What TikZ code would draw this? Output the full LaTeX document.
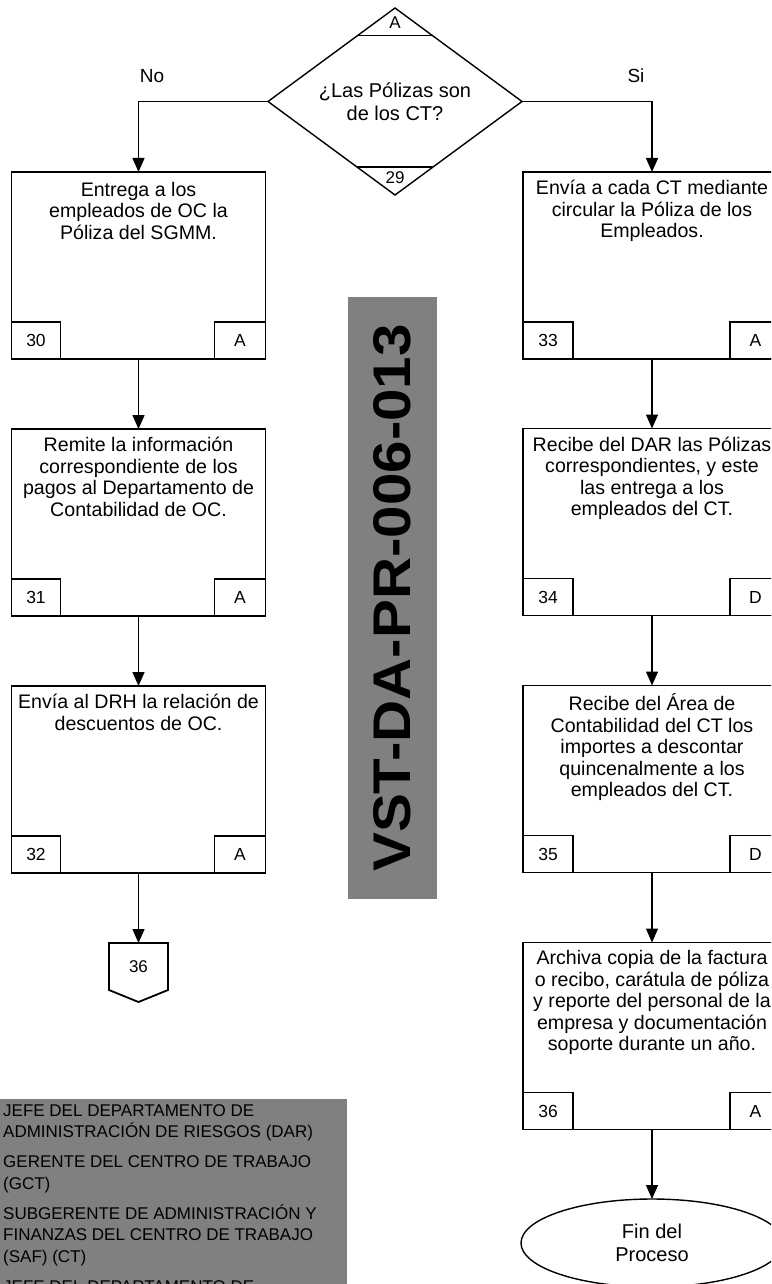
\documentclass[tikz,border=0pt]{standalone}
\usepackage{fontspec}
\setmainfont{Liberation Sans}
\usetikzlibrary{shapes.geometric,arrows.meta,calc}
\definecolor{bandgray}{HTML}{808080}
\begin{document}
\begin{tikzpicture}[x=1pt,y=-1pt,
  box/.style={draw,line width=1.4pt,minimum height=187pt,inner sep=0pt,outer sep=0pt},
  lbox/.style={box,minimum width=254pt},
  rbox/.style={box,minimum width=258pt},
  txt/.style={anchor=north,align=center,font=\fontsize{19.6}{21.5}\selectfont,inner sep=0pt},
  numbox/.style={draw,line width=1.4pt,minimum width=49pt,minimum height=37pt,inner sep=0pt,outer sep=0pt,font=\fontsize{17.5}{17.5}\selectfont},
  letbox/.style={numbox,minimum width=51pt},
  flow/.style={line width=1.4pt,-{Triangle[width=12pt,length=14pt]}},
  lbl/.style={font=\fontsize{19}{19}\selectfont,inner sep=0pt},
]
\useasboundingbox (0,0) rectangle (771,1284);
\clip (0,0) rectangle (771,1284);

% decision
\node[diamond,draw,line width=1.4pt,minimum width=254pt,minimum height=187pt,shape aspect=1.4,inner sep=0pt,outer sep=0pt,align=center,font=\fontsize{20}{22.5}\selectfont] (d) at (395,101.5) {¿Las Pólizas son\\de los CT?};
\draw[line width=1.2pt] ($(d.north)!0.29!(d.west)$) -- ($(d.north)!0.29!(d.east)$);
\draw[line width=1.2pt] ($(d.south)!0.30!(d.west)$) -- ($(d.south)!0.30!(d.east)$);
\node[font=\fontsize{17}{17}\selectfont,inner sep=0pt] (dA) at (395,23) {A};
\node[font=\fontsize{17}{17}\selectfont,inner sep=0pt] (d29) at (395,178) {29};
\node[lbl] (no) at (152,76) {No};
\node[lbl] (si) at (636,76) {Si};

% left column
\node[lbox] (b30) at (138.5,265.5) {};
\node[txt] (t30) at ([yshift=-10pt]b30.north) {Entrega a los\\empleados de OC la\\Póliza del SGMM.};
\node[numbox,anchor=south west] (n30) at (b30.south west) {30};
\node[letbox,anchor=south east] (a30) at (b30.south east) {A};

\node[lbox] (b31) at (138.5,522.5) {};
\node[txt] (t31) at ([yshift=-8pt]b31.north) {Remite la información\\correspondiente de los\\pagos al Departamento de\\Contabilidad de OC.};
\node[numbox,anchor=south west] (n31) at (b31.south west) {31};
\node[letbox,anchor=south east] (a31) at (b31.south east) {A};

\node[lbox] (b32) at (138.5,779.5) {};
\node[txt] (t32) at ([yshift=-8pt]b32.north) {Envía al DRH la relación de\\descuentos de OC.};
\node[numbox,anchor=south west] (n32) at (b32.south west) {32};
\node[letbox,anchor=south east] (a32) at (b32.south east) {A};

\node[minimum width=59pt,minimum height=47pt,inner sep=0pt,outer sep=0pt,font=\fontsize{17}{17}\selectfont] (c36) at (138.5,966.5) {36};
\draw[line width=1.8pt,line join=miter] (c36.north west) -- (c36.north east) -- (c36.south east) -- ($(c36.south)+(0,12)$) -- (c36.south west) -- cycle;

% right column
\node[rbox] (b33) at (652,265.5) {};
\node[txt] (t33) at ([yshift=-8pt]b33.north) {Envía a cada CT mediante\\circular la Póliza de los\\Empleados.};
\node[numbox,minimum width=50pt,anchor=south west] (n33) at (b33.south west) {33};
\node[letbox,anchor=south east] (a33) at (b33.south east) {A};

\node[rbox] (b34) at (652,522) {};
\node[txt] (t34) at ([yshift=-8pt]b34.north) {Recibe del DAR las Pólizas\\correspondientes, y este\\las entrega a los\\empleados del CT.};
\node[numbox,minimum width=50pt,anchor=south west] (n34) at (b34.south west) {34};
\node[letbox,anchor=south east] (a34) at (b34.south east) {D};

\node[rbox] (b35) at (652,779) {};
\node[txt] (t35) at ([yshift=-8pt]b35.north) {Recibe del Área de\\Contabilidad del CT los\\importes a descontar\\quincenalmente a los\\empleados del CT.};
\node[numbox,minimum width=50pt,anchor=south west] (n35) at (b35.south west) {35};
\node[letbox,anchor=south east] (a35) at (b35.south east) {D};

\node[rbox] (b36) at (652,1036) {};
\node[txt] (t36) at ([yshift=-8pt]b36.north) {Archiva copia de la factura\\o recibo, carátula de póliza\\y reporte del personal de la\\empresa y documentación\\soporte durante un año.};
\node[numbox,minimum width=50pt,anchor=south west] (n36) at (b36.south west) {36};
\node[letbox,anchor=south east] (a36) at (b36.south east) {A};

\node[ellipse,draw,line width=1.4pt,minimum width=262pt,minimum height=88pt,inner sep=0pt,outer sep=0pt,align=center,font=\fontsize{20}{22.5}\selectfont] (fin) at (652,1243) {Fin del\\Proceso};

% connectors
\draw[flow] (d.west) -| (b30.north);
\draw[flow] (d.east) -| (b33.north);
\draw[flow] (b30.south) -- (b31.north);
\draw[flow] (b31.south) -- (b32.north);
\draw[flow] (b32.south) -- (c36.north);
\draw[flow] (b33.south) -- (b34.north);
\draw[flow] (b34.south) -- (b35.north);
\draw[flow] (b35.south) -- (b36.north);
\draw[flow] (b36.south) -- (fin.north);

% code band
\node[fill=bandgray,minimum width=89pt,minimum height=602pt,inner sep=0pt] (band) at (392.5,598) {};
\node[rotate=90,font=\fontsize{53}{53}\selectfont\bfseries,inner sep=0pt] (code) at (band.center) {\scalebox{1.1}[1]{VST-DA-PR-006-013}};

% legend
\node[fill=bandgray,anchor=north west,minimum width=347pt,minimum height=200pt,inner sep=0pt] (legbg) at (0,1099) {};
\node[anchor=north west,align=left,inner sep=0pt,font=\fontsize{17}{21.5}\selectfont] (leg) at (3,1104) {JEFE DEL DEPARTAMENTO DE\\ADMINISTRACIÓN DE RIESGOS (DAR)\\[8.5pt]GERENTE DEL CENTRO DE TRABAJO\\(GCT)\\[8.5pt]SUBGERENTE DE ADMINISTRACIÓN Y\\FINANZAS DEL CENTRO DE TRABAJO\\(SAF) (CT)\\[8.5pt]JEFE DEL DEPARTAMENTO DE};
\end{tikzpicture}
\end{document}
